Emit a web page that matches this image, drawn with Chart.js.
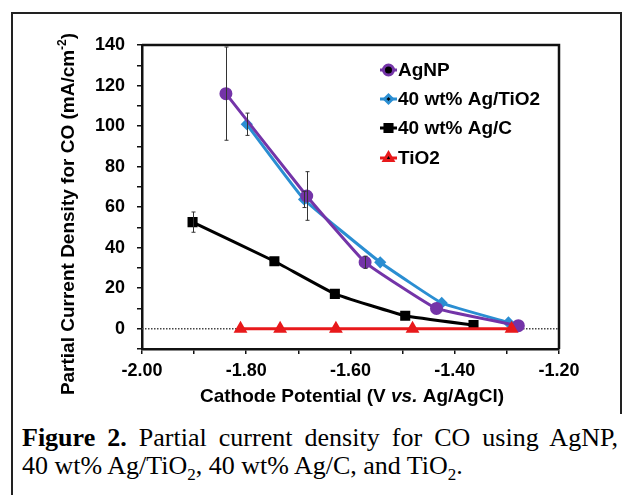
<!DOCTYPE html>
<html>
<head>
<meta charset="utf-8">
<script src="https://cdn.jsdelivr.net/npm/chart.js@4.4.1/dist/chart.umd.min.js"></script>
<style>
  body { margin: 0; background: #fff; }
  #wrap { position: relative; width: 628px; height: 495px; overflow: hidden; }
  #frame { position: absolute; left: 11px; top: 12px; width: 607px; height: 400px;
           border-left: 2px solid #222; border-top: 2px solid #222; border-right: 2px solid #222; }
  #frameLeft { position: absolute; left: 11px; top: 400px; width: 2px; height: 95px; background: #222; }
  #c { position: absolute; left: 0; top: 0; }
  .cap { position: absolute; left: 22px; font-family: "Liberation Serif", "Times New Roman", serif;
         font-size: 26px; line-height: 28px; color: #000; white-space: nowrap; }
  #cap1 { top: 424px; width: 596px; text-align: justify; text-align-last: justify; }
  #cap2 { top: 452px; }
</style>
</head>
<body>
<div id="wrap">
  <div id="frame"></div>
  <div id="frameLeft"></div>
  <canvas id="c" width="628" height="410"></canvas>
  <div class="cap" id="cap1"><b>Figure 2.</b> Partial current density for CO using AgNP,</div>
  <div class="cap" id="cap2">40 wt% Ag/TiO<sub style="font-size:17px;line-height:0">2</sub>, 40 wt% Ag/C, and TiO<sub style="font-size:17px;line-height:0">2</sub>.</div>
</div>
<script>
// series (potential in V vs. Ag/AgCl, current in mA/cm2)
var agnpX = [-1.839, -1.684, -1.572, -1.435, -1.278];
var agnpY = [116, 65.5, 32.8, 10, 1.5];
var agnpErr = [23, 12, 3, 0, 0];

var agtiX = [-1.799, -1.689, -1.543, -1.425, -1.297];
var agtiY = [100.9, 63.8, 32.8, 12.7, 3.1];
var agtiErr = [5.5, 4, 0, 0, 0];

var agcX = [-1.903, -1.746, -1.630, -1.495, -1.364];
var agcY = [52.6, 33.3, 17.2, 6.4, 1.8];
var agcErr = [5, 0, 0, 0, 0];

var tioX = [-1.811, -1.735, -1.628, -1.481, -1.291];
var tioY = [0, 0, 0, 0, 0];
var tioErr = [0, 0, 0, 0, 0];

var seriesNames = ['AgNP', '40 wt% Ag/TiO2', '40 wt% Ag/C', 'TiO2'];

function pts(xs, ys) {
    return xs.map(function(x, i) { return {x: x, y: ys[i]}; });
}

var FONT = '"Liberation Sans", Arial, sans-serif';

// error bars, zero line, plot box, titles and legend
var extras = {
    id: 'extras',
    beforeDatasetsDraw: function(chart) {
        var ctx = chart.ctx, a = chart.chartArea;
        var y0 = chart.scales.y.getPixelForValue(0);
        ctx.save();
        ctx.strokeStyle = '#444';
        ctx.lineWidth = 1.5;
        ctx.setLineDash([1.5, 1.5]);
        ctx.beginPath();
        ctx.moveTo(a.left, y0);
        ctx.lineTo(a.right, y0);
        ctx.stroke();
        ctx.restore();
    },
    afterDatasetsDraw: function(chart) {
        var ctx = chart.ctx, a = chart.chartArea;
        var xs = chart.scales.x, ys = chart.scales.y;
        ctx.save();
        ctx.strokeStyle = '#333';
        ctx.lineWidth = 1;
        chart.data.datasets.forEach(function(ds) {
            ds.data.forEach(function(p, i) {
                var e = ds.err[i];
                if (!e) return;
                var px = Math.round(xs.getPixelForValue(p.x)) + 0.5;
                var t = Math.max(ys.getPixelForValue(p.y + e), a.top);
                var b = ys.getPixelForValue(p.y - e);
                ctx.beginPath();
                ctx.moveTo(px, t); ctx.lineTo(px, b);
                ctx.moveTo(px - 2, t); ctx.lineTo(px + 2, t);
                ctx.moveTo(px - 2, b); ctx.lineTo(px + 2, b);
                ctx.stroke();
            });
        });
        ctx.restore();

        // top and right sides of the plot box
        ctx.save();
        ctx.strokeStyle = '#111';
        ctx.lineWidth = 2.5;
        ctx.beginPath();
        ctx.moveTo(a.left, a.top);
        ctx.lineTo(a.right, a.top);
        ctx.lineTo(a.right, a.bottom);
        ctx.stroke();
        ctx.restore();

        // legend
        ctx.save();
        ctx.font = 'bold 19px ' + FONT;
        ctx.textBaseline = 'middle';
        ctx.fillStyle = '#000';
        var rowY = [70, 99, 128, 158];
        chart.data.datasets.forEach(function(ds, i) {
            var y = rowY[i];
            ctx.strokeStyle = ds.borderColor;
            ctx.lineWidth = 3;
            ctx.beginPath();
            ctx.moveTo(380, y); ctx.lineTo(397, y);
            ctx.stroke();
            Chart.helpers.drawPoint(ctx, {
                pointStyle: ds.pointStyle, radius: ds.pointRadius, borderWidth: 1
            }, 388.5, y);
            ctx.fillStyle = '#000';
            ctx.fillText(ds.label, 398, y + 1);
        });
        ctx.restore();

        // y title
        ctx.save();
        ctx.fillStyle = '#000';
        ctx.translate(69, 214);
        ctx.rotate(-Math.PI / 2);
        ctx.textBaseline = 'middle';
        ctx.font = 'bold 19px ' + FONT;
        var t1 = 'Partial Current Density for CO (mA/cm';
        var w1 = ctx.measureText(t1).width;
        ctx.font = 'bold 12px ' + FONT;
        var w2 = ctx.measureText('-2').width;
        ctx.font = 'bold 19px ' + FONT;
        var w3 = ctx.measureText(')').width;
        var sx = -(w1 + w2 + w3) / 2;
        ctx.textAlign = 'left';
        ctx.fillText(t1, sx, 0);
        ctx.font = 'bold 12px ' + FONT;
        ctx.fillText('-2', sx + w1, -6);
        ctx.font = 'bold 19px ' + FONT;
        ctx.fillText(')', sx + w1 + w2, 0);
        ctx.restore();

        // x title with italic "vs."
        ctx.save();
        ctx.fillStyle = '#000';
        ctx.textBaseline = 'alphabetic';
        var parts = [['Cathode Potential (V ', 'bold '], ['vs.', 'italic bold '], [' Ag/AgCl)', 'bold ']];
        var tot = 0;
        parts.forEach(function(p) { ctx.font = p[1] + '19px ' + FONT; tot += ctx.measureText(p[0]).width; });
        var cx = 352 - tot / 2;
        parts.forEach(function(p) {
            ctx.font = p[1] + '19px ' + FONT;
            ctx.fillText(p[0], cx, 402);
            cx += ctx.measureText(p[0]).width;
        });
        ctx.restore();
    }
};

var ctx = document.getElementById('c');
var myChart = new Chart(ctx, {
    type: 'line',
    data: {
        datasets: [
        {
            label: seriesNames[0],
            data: pts(agnpX, agnpY),
            err: agnpErr,
            borderColor: '#7434a8',
            backgroundColor: '#7434a8',
            pointStyle: 'circle',
            pointRadius: 5,
            borderWidth: 3,
            order: 1
        },
        {
            label: seriesNames[1],
            data: pts(agtiX, agtiY),
            err: agtiErr,
            borderColor: '#2a8ed2',
            backgroundColor: '#2a8ed2',
            pointStyle: 'rectRot',
            pointRadius: 4,
            borderWidth: 3,
            order: 2
        },
        {
            label: seriesNames[2],
            data: pts(agcX, agcY),
            err: agcErr,
            borderColor: '#000000',
            backgroundColor: '#000000',
            pointStyle: 'rect',
            pointRadius: 5,
            borderWidth: 3,
            order: 3
        },
        {
            label: seriesNames[3],
            data: pts(tioX, tioY),
            err: tioErr,
            borderColor: '#e8191b',
            backgroundColor: '#e8191b',
            pointStyle: 'triangle',
            pointRadius: 5,
            borderWidth: 3,
            order: 0
        }]
    },
    options: {
        responsive: false,
        animation: false,
        layout: { padding: { left: 0, top: 45, right: 69, bottom: 0 } },
        plugins: { legend: { display: false }, tooltip: { enabled: false } },
        elements: { line: { tension: 0.1 }, point: { borderWidth: 1 } },
        scales: {
            x: {
                type: 'linear',
                min: -2.0,
                max: -1.2,
                afterFit: function(s) { s.height = 61; },
                border: { display: true, color: '#111', width: 2.5 },
                grid: { drawOnChartArea: false, drawTicks: true, tickLength: 5, color: '#111', lineWidth: 1.5 },
                ticks: {
                    stepSize: 0.1,
                    padding: 6,
                    color: '#000',
                    font: { family: FONT, size: 18, weight: 'bold' },
                    maxRotation: 0,
                    autoSkip: false,
                    callback: function(v) {
                        return Math.abs(Math.round(v * 10)) % 2 === 0 ? v.toFixed(2) : '';
                    }
                }
            },
            y: {
                min: -10,
                max: 140,
                afterFit: function(s) { s.width = 142; },
                border: { display: true, color: '#111', width: 2.5 },
                grid: { drawOnChartArea: false, drawTicks: true, tickLength: 5, color: '#111', lineWidth: 1.5 },
                ticks: {
                    stepSize: 10,
                    padding: 12,
                    color: '#000',
                    font: { family: FONT, size: 18, weight: 'bold' },
                    autoSkip: false,
                    callback: function(v) {
                        return v >= 0 && v % 20 === 0 ? String(v) : '';
                    }
                }
            }
        }
    },
    plugins: [extras]
});
</script>
</body>
</html>
